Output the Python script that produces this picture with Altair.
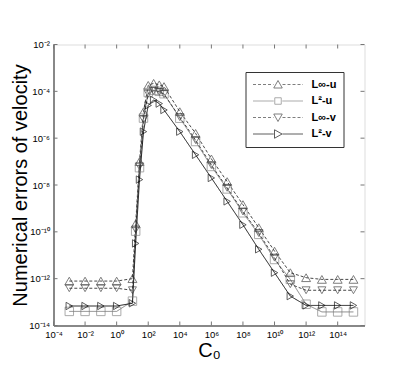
import altair as alt
import pandas as pd

# ---------------- data ----------------
c0 = [1e-3, 1e-2, 1e-1, 1, 10, 16, 28, 50, 100, 220, 500, 1e3,
      1e4, 1e5, 1e6, 1e7, 1e8, 1e9, 1e10, 1e11, 1e12, 1e13, 1e14, 1e15]

linf_u = [7.9e-13, 7.9e-13, 7.9e-13, 7.9e-13, 1.0e-12, 2.2e-10, 1.0e-7, 1.35e-5,
          1.8e-4, 2.2e-4, 1.9e-4, 1.6e-4, 1.35e-5, 1.6e-6, 1.3e-7, 1.4e-8,
          1.45e-9, 1.5e-10, 1.5e-11, 1.8e-12, 1.1e-12, 9.3e-13, 9.3e-13, 9.3e-13]

l2_u = [4.0e-14, 4.0e-14, 4.0e-14, 4.0e-14, 1.1e-13, 1.07e-10, 5.5e-8, 7.2e-6,
        8.9e-5, 1.1e-4, 1.0e-4, 7.9e-5, 7.1e-6, 7.2e-7, 6.2e-8, 6.8e-9,
        6.5e-10, 7.8e-11, 6.6e-12, 9.3e-13, 8.1e-14, 3.8e-14, 3.8e-14, 3.8e-14]

linf_v = [3.9e-13, 3.9e-13, 3.9e-13, 3.9e-13, 3.2e-13, 1.26e-10, 6.3e-8, 6.3e-6,
          7.9e-5, 1.05e-4, 9.5e-5, 7.6e-5, 7.9e-6, 8.3e-7, 7.1e-8, 7.6e-9,
          7.4e-10, 8.9e-11, 7.9e-12, 5.8e-13, 3.2e-13, 3.2e-13, 3.2e-13, 3.2e-13]

l2_v = [6.8e-14, 6.8e-14, 6.8e-14, 6.8e-14, 8.9e-14, 3.2e-11, 1.7e-8, 1.9e-6,
        2.5e-5, 4.3e-5, 3.0e-5, 1.6e-5, 1.9e-6, 1.95e-7, 2.0e-8, 2.0e-9,
        2.0e-10, 1.8e-11, 1.8e-12, 1.8e-13, 7.2e-14, 7.2e-14, 7.2e-14, 7.2e-14]

series = ["L\u221e-u", "L\u00b2-u", "L\u221e-v", "L\u00b2-v"]
x_ticks = [1e-4, 1e-2, 1e0, 1e2, 1e4, 1e6, 1e8, 1e10, 1e12, 1e14]
y_ticks = [1e-14, 1e-12, 1e-10, 1e-8, 1e-6, 1e-4, 1e-2]

# ---------------- styling ----------------
W, H = 311, 281
FONT = "Liberation Sans"
colors = ["#333333", "#7a7a7a", "#333333", "#000000"]
dashes = [[3, 2], [1, 0], [3, 2], [1, 0]]
shapes = ["triangle-up", "square", "triangle-down", "triangle-right"]
sizes = [80, 55, 80, 80]


def dashed(segs_from, segs_to, dash=0.12, gap=0.08):
    p, x = "", segs_from
    while x < segs_to - 1e-9:
        e = min(x + dash, segs_to)
        p += f"M{x:.3f},0H{e:.3f}"
        x = e + gap
    return p


tri_up = "M-0.17,0.14L0,-0.16L0.17,0.14Z"
sq = "M-0.13,-0.13H0.13V0.13H-0.13Z"
tri_dn = "M-0.17,-0.14L0,0.16L0.17,-0.14Z"
tri_rt = "M-0.14,-0.17L0.16,0L-0.14,0.17Z"
solid = "M-1,0H-0.17M0.17,0H1"
dash_line = dashed(-1, -0.18) + dashed(0.18, 1)
legend_paths = [dash_line + tri_up, solid + sq, dash_line + tri_dn, solid + tri_rt]

rows = []
for name, vals in zip(series, [linf_u, l2_u, linf_v, l2_v]):
    for x, v in zip(c0, vals):
        rows.append({"c0": x, "err": v, "series": name})
df = pd.DataFrame(rows)

e = "('' + round(log(datum.value) / LN10))"
for a, b in [("-", "\u207b"), ("0", "\u2070"), ("1", "\u00b9"), ("2", "\u00b2"),
             ("4", "\u2074"), ("6", "\u2076"), ("8", "\u2078")]:
    e = f"replace({e}, '{a}', '{b}')"
label_expr = "'10' + " + e

x_scale = alt.Scale(type="log", domain=[1e-4, 5e15], nice=False)
y_scale = alt.Scale(type="log", domain=[1e-14, 1e-2], nice=False)

x_axis = alt.Axis(values=x_ticks, labelExpr=label_expr, ticks=False, tickSize=0,
                  grid=False, domainColor="#222222", labelFont=FONT, labelFontSize=9.5,
                  labelColor="#000000", labelPadding=4, labelFlush=False,
                  title="C\u2080", titleFont=FONT, titleFontSize=20,
                  titleFontWeight="normal", titleColor="#000000",
                  titleY=31, titleBaseline="alphabetic")
y_axis = alt.Axis(values=y_ticks, labelExpr=label_expr, ticks=False, tickSize=0,
                  grid=False, domainColor="#222222", labelFont=FONT, labelFontSize=9.5,
                  labelColor="#000000", labelPadding=4, labelFlush=False,
                  title="Numerical errors of velocity", titleFont=FONT,
                  titleFontSize=20, titleFontWeight="normal", titleColor="#000000",
                  titleAngle=270, titleX=-33, titleY=H / 2, titleAlign="center",
                  titleBaseline="middle")

X = alt.X("c0:Q", scale=x_scale, axis=x_axis)
Y = alt.Y("err:Q", scale=y_scale, axis=y_axis)

color_s = alt.Scale(domain=series, range=colors)

lines = alt.Chart(df).mark_line(strokeWidth=0.9).encode(
    x=X, y=Y,
    color=alt.Color("series:N", scale=color_s, legend=None),
    strokeDash=alt.StrokeDash("series:N", scale=alt.Scale(domain=series, range=dashes), legend=None),
)

points = alt.Chart(df).mark_point(filled=False, strokeWidth=0.9).encode(
    x=X, y=Y,
    color=alt.Color("series:N", scale=color_s, legend=None),
    shape=alt.Shape("series:N", scale=alt.Scale(domain=series, range=shapes), legend=None),
    size=alt.Size("series:N", scale=alt.Scale(domain=series, range=sizes), legend=None),
)

leg = alt.Legend(orient="none", legendX=192, legendY=27.5, title=None,
                 strokeColor="#333333", padding=7, symbolSize=2500, clipHeight=11,
                 symbolStrokeWidth=0.9, symbolFillColor="transparent",
                 labelFont=FONT, labelFontSize=11, labelFontWeight="bold",
                 labelColor="#000000", labelOffset=8, rowPadding=4.5)

legend_layer = alt.Chart(df).transform_filter("false").mark_point(
    filled=False, size=2500).encode(
    x=X, y=Y,
    color=alt.Color("series:N", scale=color_s, legend=leg),
    shape=alt.Shape("series:N", scale=alt.Scale(domain=series, range=legend_paths), legend=leg),
)

xt = pd.DataFrame({"t": x_ticks})
yt = pd.DataFrame({"t": y_ticks})
TX = alt.X("t:Q", scale=x_scale, axis=x_axis)
TY = alt.Y("t:Q", scale=y_scale, axis=y_axis)
tick_col = "#777777"
bottom_ticks = alt.Chart(xt).mark_rule(color=tick_col).encode(x=TX, y=alt.value(H), y2=alt.value(H - 4))
top_ticks = alt.Chart(xt).mark_rule(color=tick_col).encode(x=TX, y=alt.value(0), y2=alt.value(4))
left_ticks = alt.Chart(yt).mark_rule(color=tick_col).encode(y=TY, x=alt.value(0), x2=alt.value(4))
right_ticks = alt.Chart(yt).mark_rule(color=tick_col).encode(y=TY, x=alt.value(W), x2=alt.value(W - 4))

chart = alt.layer(
    bottom_ticks, top_ticks, left_ticks, right_ticks, lines, points, legend_layer
).resolve_scale(
    shape="independent", color="independent", size="independent", strokeDash="independent"
).properties(
    width=W, height=H, autosize="none",
    padding={"left": 45.5, "top": 36.5, "right": 30, "bottom": 40},
).configure_view(stroke="#999999", strokeWidth=1).configure(background="white")

chart.save("out.html", embed_options={"renderer": "svg", "actions": False})
